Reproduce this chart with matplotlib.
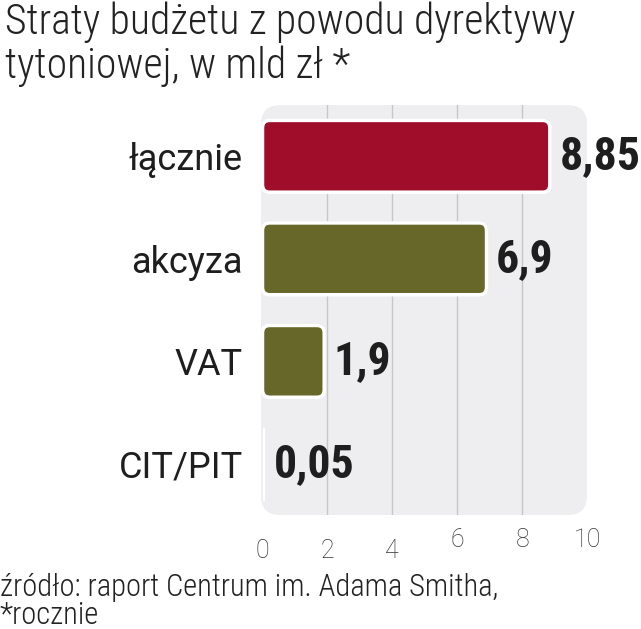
import matplotlib
matplotlib.use('Agg')
from matplotlib import pyplot as plt
from matplotlib import font_manager
from matplotlib.patches import FancyBboxPatch

categories = ['łącznie', 'akcyza', 'VAT', 'CIT/PIT']
values = [8.85, 6.9, 1.9, 0.05]
value_labels = ['8,85', '6,9', '1,9', '0,05']
bar_colors = ['#A00D2A', '#666728', '#666728', '#666728']
ticks = [0, 2, 4, 6, 8, 10]
tick_labels = ['0', '2', '4', '6', '8', '10']

title = 'Straty budżetu z powodu dyrektywy\ntytoniowej, w mld zł *'
footer_lines = ['źródło: raport Centrum im. Adama Smitha,', '*rocznie']

available = {f.name for f in font_manager.fontManager.ttflist}
condensed = None
for name in ['Roboto Condensed', 'Liberation Sans Narrow', 'Open Sans Condensed']:
    if name in available:
        condensed = name
        break
fam = ([condensed] if condensed else []) + ['Roboto', 'DejaVu Sans']
reg = ['Roboto', 'DejaVu Sans']

fig = plt.figure(figsize=(6.41, 6.29), dpi=100)
ax = fig.add_axes([0.407, 0.181, 0.509, 0.652])
ax.set_facecolor('none')

# rounded grey panel behind the plot
panel = FancyBboxPatch((0, 0), 1, 1, boxstyle='round,pad=0,rounding_size=0.06',
                       mutation_aspect=0.8, transform=ax.transAxes,
                       facecolor='#EEEEF0', edgecolor='none', zorder=0)
ax.add_patch(panel)

for t in ticks[1:-1]:
    ax.axvline(t, color='#C6C6C8', lw=1.0, zorder=1)

ypos = list(range(len(categories)))
bars = ax.barh(ypos, values, height=0.7, color='none', edgecolor='none')
for rect, col in zip(bars.patches, bar_colors):
    x, y = rect.get_x(), rect.get_y()
    w, h = rect.get_width(), rect.get_height()
    r = min(0.22, w / 2)
    if w < 0.2:
        # tiny bar: just a thin light sliver
        ax.add_patch(FancyBboxPatch((x, y), w, h, boxstyle='square,pad=0',
                                    facecolor='#D4D4D6', edgecolor='white',
                                    lw=0.8, zorder=3))
        continue
    shadow = FancyBboxPatch((x + 0.03, y - 0.015), w, h,
                            boxstyle='round,pad=0,rounding_size=%g' % r,
                            mutation_aspect=0.33, facecolor='#C9C9CB',
                            edgecolor='none', zorder=2)
    ax.add_patch(shadow)
    box = FancyBboxPatch((x, y), w, h,
                         boxstyle='round,pad=0,rounding_size=%g' % r,
                         mutation_aspect=0.33, facecolor=col,
                         edgecolor='white', lw=2.5, zorder=3)
    ax.add_patch(box)

for y, v, lab in zip(ypos, values, value_labels):
    ax.annotate(lab, (v, y), xytext=(7, 0), textcoords='offset points',
                ha='left', va='center', fontsize=33, fontweight='bold',
                color='#1E1E1E', family=fam, zorder=4)

ax.set_xlim(-0.05, 10)
ax.set_ylim(3.5, -0.5)
ax.set_yticks(ypos)
ax.set_yticklabels(categories, fontsize=26, family=reg, color='#1E1E1E')
ax.set_xticks(ticks)
ax.set_xticklabels(tick_labels, fontsize=18, family=reg,
                   fontweight='light', color='#333333')
ax.tick_params(axis='y', length=0, pad=13)
ax.tick_params(axis='x', length=0, pad=17)
# staggered tick labels like the original
for i, lbl in enumerate(ax.get_xticklabels()):
    if i >= 3:
        lbl.set_y(0.027)
for s in ax.spines.values():
    s.set_visible(False)

fig.text(0.008, 0.997, title, ha='left', va='top', fontsize=30,
         family=fam, fontweight='light', color='#222222', linespacing=1.05)
fig.text(0.0, 1 - 596 / 629, footer_lines[0], ha='left', va='baseline',
         fontsize=22, family=fam, fontweight='light', color='#222222')
fig.text(0.0, 1 - 624 / 629, footer_lines[1], ha='left', va='baseline',
         fontsize=22, family=fam, fontweight='light', color='#222222')

fig.savefig('out.png', dpi=100, facecolor='white')
